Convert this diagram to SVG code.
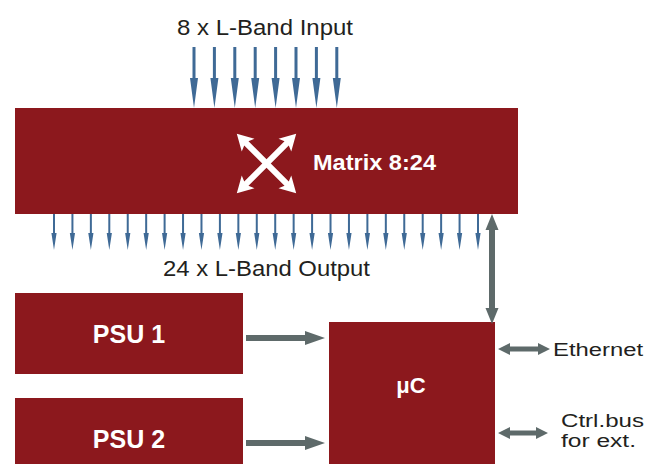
<svg xmlns="http://www.w3.org/2000/svg" xmlns:xlink="http://www.w3.org/1999/xlink" width="661" height="470" viewBox="0 0 661 470">
<style>
.box{fill:#8C181D}
.lbl{font-family:"Liberation Sans",Arial,sans-serif;fill:#231F20}
.wlbl{font-family:"Liberation Sans",Arial,sans-serif;font-weight:bold;fill:#FFFFFF}
.blue{fill:#3F6A96}
.grey{fill:#5E6A6A}
</style>
<defs>
<path id="inArrow" d="M-1.5,0 H1.5 V31 L4,31 L0,61 L-4,31 L-1.5,31 Z"/>
<path id="outArrow" d="M-1,0 H1 V19 L2.6,19 L0,36 L-2.6,19 L-1,19 Z"/>
<path id="crossArm" d="M-42,0 L-26,-9 L-28.5,-3 L28.5,-3 L26,-9 L42,0 L26,9 L28.5,3 L-28.5,3 L-26,9 Z"/>
</defs>
<g id="matrix">
<rect class="box" x="15" y="108" width="503" height="106"/>
<g transform="translate(266.5,163.5)" fill="#FFFFFF">
<use xlink:href="#crossArm" transform="rotate(45)"/>
<use xlink:href="#crossArm" transform="rotate(-45)"/>
</g>
<text class="wlbl" x="313" y="170" font-size="22.5" textLength="123" lengthAdjust="spacingAndGlyphs">Matrix 8:24</text>
</g>
<g id="psu1">
<rect class="box" x="15" y="293" width="228" height="81"/>
<text class="wlbl" x="129" y="343" font-size="25" text-anchor="middle">PSU 1</text>
</g>
<g id="psu2">
<rect class="box" x="15" y="398" width="228" height="66"/>
<text class="wlbl" x="129" y="448" font-size="25" text-anchor="middle">PSU 2</text>
</g>
<g id="uc">
<rect class="box" x="329" y="322" width="166" height="142"/>
<text class="wlbl" x="411" y="393" font-size="22" text-anchor="middle">μC</text>
</g>
<g id="labels">
<text class="lbl" x="177" y="35" font-size="22" textLength="176" lengthAdjust="spacingAndGlyphs">8 x L-Band Input</text>
<text class="lbl" x="163" y="276" font-size="22" textLength="207" lengthAdjust="spacingAndGlyphs">24 x L-Band Output</text>
<text class="lbl" x="553" y="356" font-size="18" textLength="90" lengthAdjust="spacingAndGlyphs">Ethernet</text>
<text class="lbl" x="561" y="427" font-size="18" textLength="83" lengthAdjust="spacingAndGlyphs">Ctrl.bus</text>
<text class="lbl" x="561" y="447" font-size="18" textLength="75" lengthAdjust="spacingAndGlyphs">for ext.</text>
</g>
<g id="connectors">
<g class="blue">
<use xlink:href="#inArrow" x="194" y="47"/>
<use xlink:href="#inArrow" x="214.4" y="47"/>
<use xlink:href="#inArrow" x="234.8" y="47"/>
<use xlink:href="#inArrow" x="255.2" y="47"/>
<use xlink:href="#inArrow" x="275.6" y="47"/>
<use xlink:href="#inArrow" x="296" y="47"/>
<use xlink:href="#inArrow" x="316.4" y="47"/>
<use xlink:href="#inArrow" x="336.8" y="47"/>
</g>
<g class="blue">
<use xlink:href="#outArrow" x="54" y="214"/>
<use xlink:href="#outArrow" x="72.43" y="214"/>
<use xlink:href="#outArrow" x="90.87" y="214"/>
<use xlink:href="#outArrow" x="109.3" y="214"/>
<use xlink:href="#outArrow" x="127.74" y="214"/>
<use xlink:href="#outArrow" x="146.17" y="214"/>
<use xlink:href="#outArrow" x="164.61" y="214"/>
<use xlink:href="#outArrow" x="183.04" y="214"/>
<use xlink:href="#outArrow" x="201.48" y="214"/>
<use xlink:href="#outArrow" x="219.91" y="214"/>
<use xlink:href="#outArrow" x="238.35" y="214"/>
<use xlink:href="#outArrow" x="256.78" y="214"/>
<use xlink:href="#outArrow" x="275.22" y="214"/>
<use xlink:href="#outArrow" x="293.65" y="214"/>
<use xlink:href="#outArrow" x="312.09" y="214"/>
<use xlink:href="#outArrow" x="330.52" y="214"/>
<use xlink:href="#outArrow" x="348.96" y="214"/>
<use xlink:href="#outArrow" x="367.39" y="214"/>
<use xlink:href="#outArrow" x="385.83" y="214"/>
<use xlink:href="#outArrow" x="404.26" y="214"/>
<use xlink:href="#outArrow" x="422.7" y="214"/>
<use xlink:href="#outArrow" x="441.13" y="214"/>
<use xlink:href="#outArrow" x="459.57" y="214"/>
<use xlink:href="#outArrow" x="478" y="214"/>
</g>
<g class="grey">
<path d="M492,214 L498.5,230 L495,230 L495,308 L498.5,308 L492,324 L485.5,308 L489,308 L489,230 L485.5,230 Z"/>
<path d="M246,335 L305,335 L305,331 L325,338 L305,345 L305,341 L246,341 Z"/>
<path d="M246,440 L305,440 L305,436 L325,443 L305,450 L305,446 L246,446 Z"/>
<path d="M498,349 L510,343 L510,346.5 L538,346.5 L538,343 L550,349 L538,355 L538,351.5 L510,351.5 L510,355 Z"/>
<path d="M498,433 L510,427 L510,430.5 L536,430.5 L536,427 L548,433 L536,439 L536,435.5 L510,435.5 L510,439 Z"/>
</g>
</g>
</svg>
